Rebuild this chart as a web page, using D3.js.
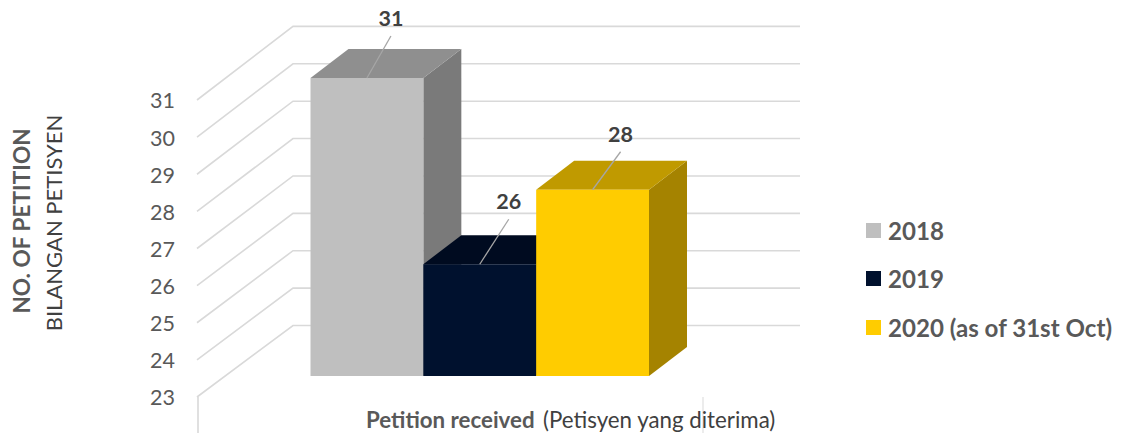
<!DOCTYPE html>
<html><head><meta charset="utf-8">
<script src="https://cdn.jsdelivr.net/npm/d3@7"></script>
<style>html,body{margin:0;padding:0;background:#fff}svg{display:block}text{font-family:Lato,"Open Sans",sans-serif}</style>
</head><body><svg id="c" width="1122" height="433"></svg>
<script>
const years = ["2018", "2019", "2020 (as of 31st Oct)"];
const petitions = [31, 26, 28];
const tickValues = [23, 24, 25, 26, 27, 28, 29, 30, 31];
const frontColors = ["#BFBFBF", "#00112E", "#FFCC00"];
const topColors = ["#8F8F8F", "#000B20", "#C09A00"];
const sideColors = ["#7A7A7A", "#000A1C", "#A58300"];

const svg = d3.select("#c");
const domain = [23, 31];
const yFront = d3.scaleLinear().domain(domain).range([397, 100]);
const yBack = d3.scaleLinear().domain(domain).range([325.5, 26.4]);
const yBar = d3.scaleLinear().domain(domain).range([376, 78]);
const x = d3.scaleBand().domain(d3.range(years.length)).range([310.5, 649]);
const depthX = 38, depthY = 29;
const gridColor = "#D9D9D9", textColor = "#595959";

// gridlines
const grid = svg.append("g").attr("fill", "none").attr("stroke", gridColor).attr("stroke-width", 1.6);
grid.selectAll("path").data(tickValues).join("path")
  .attr("d", v => `M197,${yFront(v)}L293,${yBack(v)}L800,${yBack(v)}`);
grid.append("line").attr("x1", 198).attr("x2", 198).attr("y1", yFront(23)).attr("y2", 433);
grid.append("line").attr("x1", 703).attr("x2", 703).attr("y1", yFront(23)).attr("y2", 433).attr("stroke-width", 1);

// y tick labels
const axis = svg.append("g").attr("transform", "translate(175,1)")
  .call(d3.axisLeft(yFront).tickValues(tickValues).tickSize(0).tickPadding(0).tickFormat(d3.format("d")));
axis.select(".domain").remove();
axis.selectAll("text").attr("fill", textColor).attr("font-size", 21.5).attr("font-family", "Lato");

// 3D bars: each later bar paints over the earlier one's side face
const bars = svg.append("g").selectAll("g").data(d3.range(years.length)).join("g");
bars.append("path").attr("fill", i => sideColors[i]).attr("d", i => {
  const r = x(i) + x.bandwidth(), t = yBar(petitions[i]), b = yBar(23);
  return `M${r},${t}L${r + depthX},${t - depthY}L${r + depthX},${b - depthY}L${r},${b}Z`;
});
bars.append("path").attr("fill", i => topColors[i]).attr("d", i => {
  const l = x(i), r = l + x.bandwidth(), t = yBar(petitions[i]);
  return `M${l},${t}L${l + depthX},${t - depthY}L${r + depthX},${t - depthY}L${r},${t}Z`;
});
bars.append("rect").attr("fill", i => frontColors[i])
  .attr("x", i => x(i)).attr("width", x.bandwidth())
  .attr("y", i => yBar(petitions[i])).attr("height", i => yBar(23) - yBar(petitions[i]));

// data labels with leader lines
const labels = svg.append("g").selectAll("g").data(d3.range(years.length)).join("g");
labels.append("line").attr("stroke", "#A6A6A6").attr("stroke-width", 1.3)
  .attr("x1", i => x(i) + x.bandwidth() / 2).attr("y1", i => yBar(petitions[i]))
  .attr("x2", i => x(i) + x.bandwidth() / 2 + [24, 29, 28][i]).attr("y2", i => yBar(petitions[i]) - [42, 45, 38][i]);
labels.append("text").text(i => petitions[i]).attr("text-anchor", "middle")
  .attr("fill", "#404040").attr("font-weight", 700).attr("font-size", 21.5)
  .attr("x", i => x(i) + x.bandwidth() / 2 + [24, 29, 28][i])
  .attr("y", i => yBar(petitions[i]) - [52, 55, 48][i]);

// legend
const legend = svg.append("g").selectAll("g").data(d3.range(years.length)).join("g")
  .attr("transform", i => `translate(866,${[223, 271, 320][i]})`);
legend.append("rect").attr("width", 15).attr("height", 15).attr("fill", i => frontColors[i]);
legend.append("text").text(i => years[i]).attr("x", 22).attr("y", 17)
  .attr("fill", textColor).attr("font-weight", 700).attr("font-size", 24.1);

// axis titles
const xt = svg.append("text").attr("y", 428).attr("fill", textColor);
xt.append("tspan").attr("x", 366).attr("font-weight", 700).attr("font-size", 22.3).text("Petition received");
xt.append("tspan").attr("x", 543).attr("font-size", 22.3).attr("fill", "#404040").text("(Petisyen yang diterima)");
svg.append("text").text("NO. OF PETITION").attr("text-anchor", "middle")
  .attr("transform", "translate(30,221) rotate(-90)")
  .attr("fill", textColor).attr("font-weight", 700).attr("font-size", 22.6);
svg.append("text").text("BILANGAN PETISYEN").attr("text-anchor", "middle")
  .attr("transform", "translate(62,223) rotate(-90)")
  .attr("fill", "#404040").attr("font-size", 22);
</script></body></html>
